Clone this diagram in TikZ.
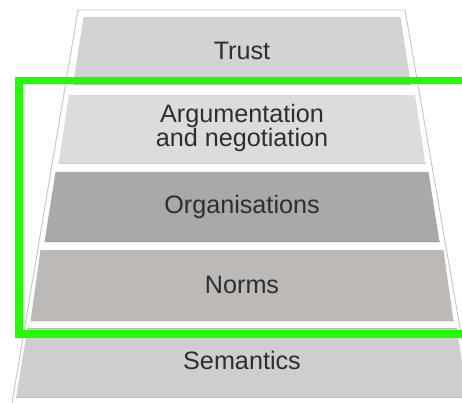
\documentclass[tikz,border=0pt]{standalone}
\usepackage{fontspec}
\setmainfont{Liberation Sans}
\definecolor{trustc}{HTML}{D3D3D3}
\definecolor{argc}{HTML}{DBDCDC}
\definecolor{orgc}{HTML}{A9A9A9}
\definecolor{normc}{HTML}{BDB9B6}
\definecolor{semc}{HTML}{CECECE}
\definecolor{txtc}{HTML}{2E2E2E}
\definecolor{outc}{HTML}{C4C4C4}
\definecolor{greenc}{RGB}{30,255,0}
\newcommand\pyrlayer[6]{%
  \fill[#5] ({242-#3},#1) -- ({242+#3},#1) -- ({242+#4},#2) -- ({242-#4},#2) -- cycle;
  \draw[#6, line width=1.2] ({242-#4},{#2-0.6}) -- ({242+#4},{#2-0.6});
}
\begin{document}
\begin{tikzpicture}[x=1pt,y=-1pt,
  lbl/.style={anchor=base, inner sep=0pt, text=txtc, font=\fontsize{25.2}{23}\selectfont},
  outline/.style={draw=outc, line width=0.9},
  frame/.style={draw=greenc, line width=7.5}]
\useasboundingbox (0,0) rectangle (462,403);
\fill[white] (0,0) rectangle (462,403);
% outer trapezoid
\draw[outline] (12,403) -- (78,10) -- (405,10) -- (473,403);
% layers
\pyrlayer{17}{85}{158.5}{169}{trustc}{black!28}
\pyrlayer{95}{164}{173}{183.5}{argc}{black!22}
\pyrlayer{172}{242}{186.5}{197.5}{orgc}{black!38}
\pyrlayer{250}{321}{201.5}{211.5}{normc}{black!30}
\pyrlayer{328}{398}{214.5}{226}{semc}{black!25}
\draw[black!28, line width=1.2] ({242-214.5},328.6) -- ({242+214.5},328.6);
% labels
\node[lbl] (trust) at (242,60) {Trust};
\node[lbl] (arg) at (242,122.5) {\vtop{\baselineskip=23pt\hbox to 190pt{\hfil Argumentation\hfil}\hbox to 190pt{\hfil and negotiation\hfil}}};
\node[lbl] (org) at (242,213.3) {Organisations};
\node[lbl] (norms) at (242,293.3) {Norms};
\node[lbl] (sem) at (242,369) {Semantics};
% green frame
\draw[frame] (19,80.5) rectangle (465.3,334);
\end{tikzpicture}
\end{document}
